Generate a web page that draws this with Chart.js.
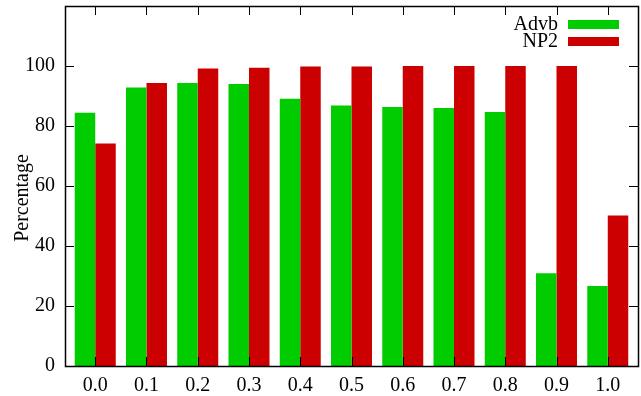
<!DOCTYPE html>
<html>
<head>
<meta charset="utf-8">
<script src="https://cdn.jsdelivr.net/npm/chart.js@4/dist/chart.umd.min.js"></script>
<style>
  html, body { margin: 0; padding: 0; background: #fff; }
  #wrap { width: 641px; height: 396px; }
</style>
</head>
<body>
<div id="wrap"><canvas id="c" width="641" height="396"></canvas></div>
<script>
const categories = ['0.0','0.1','0.2','0.3','0.4','0.5','0.6','0.7','0.8','0.9','1.0'];
const advb = [84.4, 92.8, 94.3, 94.0, 89.1, 86.8, 86.3, 86.0, 84.7, 30.9, 26.7];
const np2  = [74.2, 94.3, 99.2, 99.4, 99.8, 99.8, 100, 100, 100, 100, 50.2];
const yTicks = [0, 20, 40, 60, 80, 100];
const seriesNames = ['Advb', 'NP2'];
const seriesColors = ['#00cc00', '#cc0000'];
const yTitle = 'Percentage';

const FONT = '"Liberation Serif", "DejaVu Serif", serif';
const FS = 20;

const framePlugin = {
  id: 'frame',
  afterDatasetsDraw(chart) {
    const ctx = chart.ctx;
    const a = chart.chartArea;
    const xs = chart.scales.x, ys = chart.scales.y;
    const tl = 9;
    ctx.save();
    ctx.strokeStyle = '#000';
    ctx.lineWidth = 1;
    ctx.beginPath();
    xs.ticks.forEach(t => {
      const px = Math.round(xs.getPixelForValue(t.value)) + 0.5;
      ctx.moveTo(px, a.bottom); ctx.lineTo(px, a.bottom - tl);
      ctx.moveTo(px, a.top); ctx.lineTo(px, a.top + tl);
    });
    ys.ticks.forEach(t => {
      const py = Math.round(ys.getPixelForValue(t.value)) + 0.5;
      ctx.moveTo(a.left, py); ctx.lineTo(a.left + tl, py);
      ctx.moveTo(a.right, py); ctx.lineTo(a.right - tl, py);
    });
    ctx.stroke();
    ctx.lineWidth = 1.5;
    ctx.strokeRect(Math.round(a.left) + 0.5, Math.round(a.top) + 0.5,
                   Math.round(a.right - a.left), Math.round(a.bottom - a.top));
    // legend (gnuplot style: text right, sample to its right)
    ctx.font = FS + 'px ' + FONT;
    ctx.textAlign = 'right';
    ctx.textBaseline = 'middle';
    const textRight = a.right - 80;
    seriesNames.forEach((n, i) => {
      const cy = 25 + i * 17;
      ctx.fillStyle = '#000';
      ctx.fillText(n, textRight, cy);
      ctx.fillStyle = seriesColors[i];
      ctx.fillRect(textRight + 10, cy - 5, 51, 9);
    });
    // y title
    ctx.save();
    ctx.translate(23, 198);
    ctx.rotate(-Math.PI / 2);
    ctx.textAlign = 'center';
    ctx.textBaseline = 'middle';
    ctx.fillStyle = '#000';
    ctx.fillText(yTitle, 0, 0);
    ctx.restore();
    ctx.restore();
  }
};

new Chart(document.getElementById('c'), {
  type: 'bar',
  data: {
    datasets: [
      { label: seriesNames[0], data: advb.map((v, i) => ({ x: i, y: v })), backgroundColor: seriesColors[0], borderWidth: 0 },
      { label: seriesNames[1], data: np2.map((v, i) => ({ x: i, y: v })), backgroundColor: seriesColors[1], borderWidth: 0 }
    ]
  },
  options: {
    responsive: false,
    animation: false,
    devicePixelRatio: 1,
    layout: { padding: { top: 6, right: 3, left: 0, bottom: 0 } },
    datasets: { bar: { barPercentage: 1.0, categoryPercentage: 0.8 } },
    plugins: { legend: { display: false }, tooltip: { enabled: false } },
    scales: {
      x: {
        type: 'linear',
        min: -0.59,
        max: 10.59,
        offset: false,
        grid: { display: false, drawTicks: false },
        border: { display: false },
        afterBuildTicks: s => { s.ticks = categories.map((c, i) => ({ value: i })); },
        afterFit: s => { s.height = 30; s.paddingLeft = 0; s.paddingRight = 0; },
        ticks: {
          padding: 8,
          autoSkip: false,
          maxRotation: 0,
          color: '#000',
          font: { family: FONT, size: FS },
          callback: v => categories[v] ?? ''
        }
      },
      y: {
        min: 0,
        max: 120,
        grid: { display: false, drawTicks: false },
        border: { display: false },
        afterBuildTicks: s => { s.ticks = yTicks.map(v => ({ value: v })); },
        afterFit: s => { s.width = 65; s.paddingTop = 0; s.paddingBottom = 0; },
        ticks: {
          padding: 10,
          color: '#000',
          font: { family: FONT, size: FS }
        }
      }
    }
  },
  plugins: [framePlugin]
});
</script>
</body>
</html>
